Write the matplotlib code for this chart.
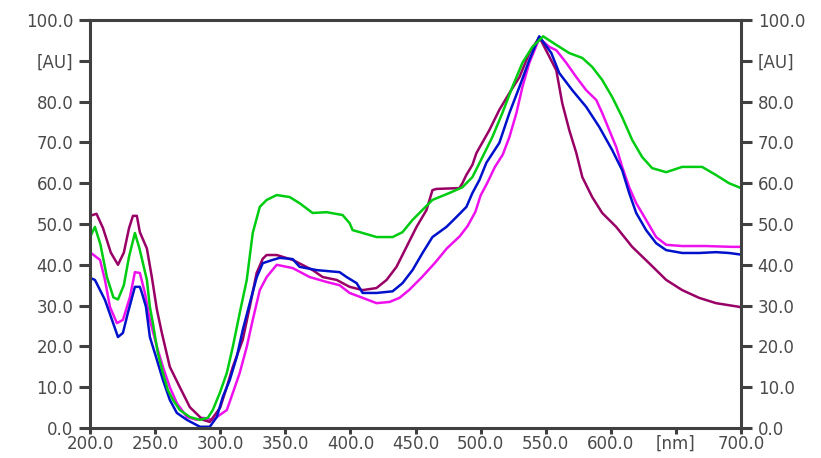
import matplotlib
matplotlib.use("Agg")
import matplotlib.pyplot as plt

# Spectra (wavelength in nm, absorbance in AU)
purple_wl = [200, 205, 210, 216, 221.5, 226, 230, 233, 236, 238.3, 243.7, 247.5, 251.4, 255.2,
             261.3, 269, 276.7, 286.7, 292, 300, 305, 309.7, 317.3, 322.7, 328, 332.7, 335.7,
             343.4, 355.7, 371, 378.7, 389.4, 399.4, 409.4, 420, 427.8, 435.4, 443.1, 450.8,
             458.4, 463, 466, 483.7, 486, 489, 493.7, 496.8, 506.7, 514.4, 522.1, 529.8, 537.4,
             545.1, 558.1, 562.7, 568.1, 573.5, 578.1, 585.7, 593.4, 604.1, 616.4, 629.4, 642.5,
             654.8, 667.8, 680.8, 698.5, 700]
purple_val = [52, 52.5, 49, 43, 40, 43, 49, 52, 52, 48, 44, 37, 29, 23.3,
              15, 10, 5.1, 2, 1.5, 5, 10, 15, 21.6, 29.7, 38, 41.5, 42.4,
              42.4, 41.2, 38.7, 37, 36.3, 34.6, 33.8, 34.3, 36.3, 39.5, 44.4, 49.3,
              53.4, 58.3, 58.6, 58.8, 60, 62, 64.5, 67.4, 73, 78, 82.1, 86, 91.9,
              95.8, 87.7, 79.6, 73, 67.4, 61.5, 56.6, 52.7, 49.3, 44.4, 40.4, 36.3,
              33.8, 31.9, 30.6, 29.7, 29.5]

magenta_wl = [200, 207.7, 211.5, 215.3, 220.7, 225.3, 230.7, 234.5, 238.3, 242.2, 246, 251.4,
              256, 261.3, 266.7, 274.4, 282.1, 286.7, 294.3, 305.1, 309.7, 315, 320.4, 325,
              330.4, 335.7, 343.4, 355.7, 368.7, 381.7, 391.7, 399.4, 409.4, 420.1, 430.1,
              437.7, 445, 455, 465, 474, 484, 490, 496, 500, 505, 511, 517, 522.1, 527.5,
              532.1, 537.4, 545.1, 552.8, 558.1, 565.8, 573.5, 581.1, 588.8, 593.4, 598.8,
              604.1, 608.7, 614.1, 619.5, 627.1, 634.8, 642.5, 654.8, 673.2, 693.1, 700]
magenta_val = [43.1, 41.2, 36.3, 29.7, 25.7, 26.5, 32.1, 38.2, 38, 33.1, 26.5, 19.9,
               15, 10, 6.1, 2.7, 2, 2.5, 2, 4.4, 8.6, 13.5, 19.9, 26.5,
               33.8, 37, 40, 39.2, 37, 35.8, 35, 33.1, 31.9, 30.6, 30.9,
               31.9, 33.8, 37, 40.5, 44, 47, 49.5, 53, 57, 60, 64, 67, 71.3, 77.2,
               83.6, 89.5, 95.5, 93.4, 92.6, 89.5, 86, 82.8, 80.4, 77.2, 73,
               68.9, 64, 59, 55.1, 51, 46.8, 44.9, 44.6, 44.6, 44.4, 44.4]

blue_wl = [200, 203.8, 211.5, 216.9, 221.5, 225.3, 229.1, 234.5, 238.3, 240, 243, 246, 251.4,
           256, 261.3, 266.7, 274.4, 284.4, 292, 297.4, 302, 307.4, 312.7, 317.3, 322.7,
           328.1, 332.7, 340.3, 345.7, 355.7, 361, 374.1, 391.7, 397.1, 404.8, 409.4, 420.1,
           432.4, 440, 447.7, 455.4, 463, 473.8, 481.4, 489.1, 493.7, 499.1, 504.4, 514.4,
           522.1, 529.8, 537.4, 545, 554.3, 560.4, 570.4, 581.1, 591.1, 601.1, 608.7, 614.1,
           619.5, 627.1, 634.8, 642.5, 654.8, 667.8, 680.8, 690.8, 700]
blue_val = [36.8, 36.3, 31.4, 26.5, 22.3, 23.3, 28.2, 34.6, 34.6, 33, 29.7, 22.3, 16.7,
            11.8, 6.9, 3.7, 2, 0.3, 0.3, 2.7, 7.6, 11.8, 17.4, 24, 30.6,
            37, 40.4, 41.2, 41.7, 41.4, 39.5, 38.7, 38.2, 37, 35.5, 33.1, 33.1,
            33.5, 35.5, 38.7, 42.9, 46.8, 49.3, 51.7, 54.2, 57.6, 60.8, 65, 69.9,
            77.2, 83.6, 90.2, 96, 91.9, 87, 82.8, 78.7, 73.8, 68.1, 63.2, 57.6,
            52.7, 48.5, 45.3, 43.6, 42.9, 42.9, 43.1, 42.9, 42.5]

green_wl = [200, 203.8, 208, 213, 218, 221.5, 226, 230, 234.5, 238, 243.7, 246, 248.3, 252.1,
            256, 259.8, 263.7, 269, 276.7, 284.4, 290.5, 294.3, 299.7, 305.1, 309.7, 315,
            320.4, 325, 330.4, 335.7, 343.4, 353.4, 361, 371, 381.7, 394, 399.4, 401.7,
            409.4, 420.1, 432.4, 440, 447.7, 453, 463, 476, 486, 493.7, 501.4, 509, 516.7,
            524.4, 532.1, 539.7, 548, 558.1, 568.1, 578.1, 585.7, 593.4, 601.1, 608.7, 616.4,
            624.1, 631.7, 642.5, 654.8, 670.1, 680.8, 690.8, 700]
green_val = [46.8, 49.3, 45, 37, 32, 31.5, 35, 42, 47.8, 44, 36.3, 29.7, 25.7, 18.4,
             13.5, 9.3, 6.9, 4.4, 2.7, 2, 2.5, 4.4, 8.6, 13.5, 19.9, 28.2,
             36.3, 47.8, 54.2, 55.9, 57.1, 56.6, 55.1, 52.7, 52.9, 52.2, 50.2, 48.5,
             47.8, 46.8, 46.8, 48, 51, 52.7, 55.9, 57.6, 59, 61.5, 66.4, 71.3, 77.2,
             83.6, 89.5, 93.4, 96, 93.9, 91.9, 90.7, 88.5, 85.3, 81.1, 76.2, 70.6,
             66.4, 63.7, 62.7, 64, 64, 62, 60, 58.8]

x_ticks = [200, 250, 300, 350, 400, 450, 500, 550, 600, 650, 700]
x_labels = ["200.0", "250.0", "300.0", "350.0", "400.0", "450.0", "500.0", "550.0",
            "600.0", "[nm]", "700.0"]
y_ticks = [0, 10, 20, 30, 40, 50, 60, 70, 80, 90, 100]
y_labels = ["0.0", "10.0", "20.0", "30.0", "40.0", "50.0", "60.0", "70.0", "80.0",
            "[AU]", "100.0"]

AXIS_COLOR = "#404040"
TEXT_COLOR = "#4a4a4a"


def plot_spectra():
    fig = plt.figure(figsize=(8.21, 4.58), dpi=100)
    ax = fig.add_axes([0.1096, 0.0655, 0.7930, 0.8908])

    ax.plot(magenta_wl, magenta_val, color="#ee11ee", lw=1.8)
    ax.plot(purple_wl, purple_val, color="#990066", lw=1.8)
    ax.plot(blue_wl, blue_val, color="#0011cc", lw=1.8)
    ax.plot(green_wl, green_val, color="#00cc11", lw=1.8)

    ax.set_xlim(200, 700)
    ax.set_ylim(0, 100)
    ax.set_xticks(x_ticks)
    ax.set_xticklabels(x_labels)
    ax.set_yticks(y_ticks)
    ax.set_yticklabels(y_labels)

    for sp in ax.spines.values():
        sp.set_color(AXIS_COLOR)
        sp.set_linewidth(2.2)

    ax.tick_params(axis="y", direction="out", length=8, width=2.2, color=AXIS_COLOR,
                   labelsize=12, labelcolor=TEXT_COLOR, left=True, right=True,
                   labelleft=True, labelright=True, pad=4)
    ax.tick_params(axis="x", direction="out", length=4, width=2.2, color=AXIS_COLOR,
                   labelsize=12, labelcolor=TEXT_COLOR, pad=1)

    fig.savefig("out.png", dpi=100)


if __name__ == "__main__":
    plot_spectra()
